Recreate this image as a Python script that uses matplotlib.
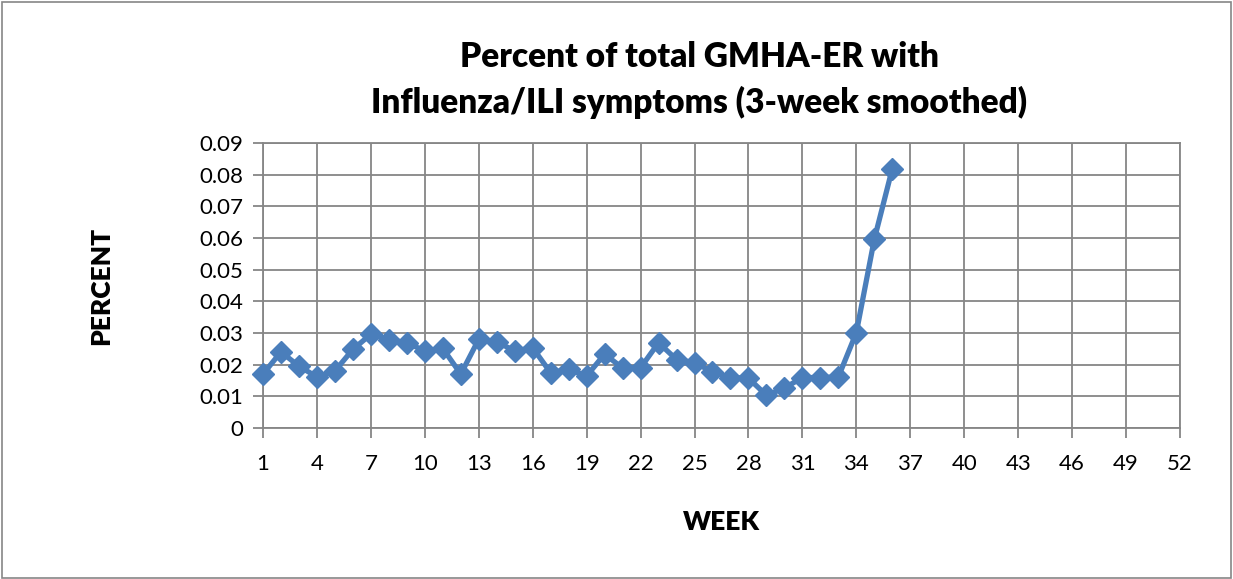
import numpy as np
import matplotlib
matplotlib.use("Agg")
from matplotlib import pyplot as plt
from matplotlib.patches import Rectangle

# weekly values (weeks 1..36 reported)
weeks = list(range(1, 37))
percent = [0.0170, 0.0240, 0.0195, 0.0161, 0.0180, 0.0248, 0.0296, 0.0279, 0.0269,
           0.0243, 0.0251, 0.0170, 0.0280, 0.0272, 0.0243, 0.0253, 0.0174, 0.0185,
           0.0164, 0.0233, 0.0189, 0.0190, 0.0269, 0.0216, 0.0206, 0.0177, 0.0159,
           0.0157, 0.0103, 0.0126, 0.0159, 0.0159, 0.0161, 0.0301, 0.0596, 0.0819]
week_ticks = list(range(1, 53, 3))
y_ticks = [0, 0.01, 0.02, 0.03, 0.04, 0.05, 0.06, 0.07, 0.08, 0.09]

title = "Percent of total GMHA-ER with\nInfluenza/ILI symptoms (3-week smoothed)"

plt.rcParams['font.family'] = ['Lato', 'DejaVu Sans']

fig = plt.figure(figsize=(12.33, 5.79), dpi=100)
ax = fig.add_axes([0.2133, 0.261, 0.957 - 0.2133, 0.753 - 0.261])

grid_col = '#868686'
ax.plot(weeks, percent, color='#4a7ebb', linewidth=3.8, marker='D',
        markersize=11.5, markerfacecolor='#4a7ebb', markeredgecolor='#4a7ebb',
        zorder=3, clip_on=False)

ax.set_xlim(1, 52)
ax.set_ylim(0, 0.09)
ax.set_xticks(week_ticks)
ax.set_xticklabels([str(w) for w in week_ticks])
ax.set_yticks(y_ticks)
ax.set_yticklabels(["0" if v == 0 else f"{v:.2f}" for v in y_ticks])
ax.grid(True, color=grid_col, linewidth=1.3)
ax.set_axisbelow(True)
for s in ax.spines.values():
    s.set_color(grid_col)
    s.set_linewidth(1.3)
ax.tick_params(axis='both', direction='out', length=7, width=1.3, color=grid_col,
               labelsize=16, pad=7)
ax.tick_params(axis='x', pad=12)

ax.set_xlabel("WEEK", fontsize=19, fontweight='heavy', labelpad=26)
ax.set_ylabel("PERCENT", fontsize=19, fontweight='heavy', labelpad=62)
fig.text(0.567, 0.862, title, ha='center', va='center', fontsize=24,
         fontweight='heavy', linespacing=1.45)

# outer chart border
fig.patches.append(Rectangle((0.002, 0.002), 0.996, 0.994, transform=fig.transFigure,
                             fill=False, edgecolor='#868686', linewidth=1.2))

fig.savefig("out.png", dpi=100)
